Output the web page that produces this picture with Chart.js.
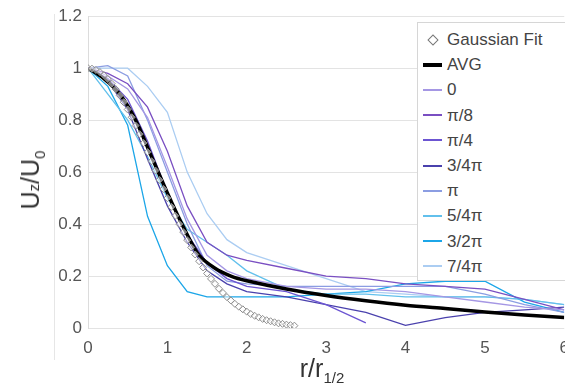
<!DOCTYPE html>
<html>
<head>
<meta charset="utf-8">
<script src="https://cdn.jsdelivr.net/npm/chart.js@4"></script>
<style>
  html, body { margin: 0; padding: 0; background: #fff; overflow: hidden; width: 565px; height: 385px; }
  #wrap { position: relative; width: 579px; height: 385px; }
  #frame { position: absolute; left: 54px; top: 14px; height: 346px; border-left: 1px solid #e6e6e6; }
  .title { position: absolute; font-family: 'Liberation Sans', Arial, sans-serif; color: #333; white-space: nowrap; }
  #ytitle { left: 32px; top: 180px; font-size: 25px; transform: translate(-50%, -50%) rotate(-90deg); }
  #xtitle { left: 322px; top: 370px; font-size: 25px; transform: translate(-50%, -50%); }
  .sm { font-size: 15px; }
  #legend { position: absolute; left: 417px; top: 22px; width: 160px; height: 259px; background: #fff;
            border: 1px solid #d6d6d6; box-sizing: border-box; padding-top: 4px;
            font-family: 'Liberation Sans', Arial, sans-serif; font-size: 17px; color: #444; }
  .row { height: 25.2px; line-height: 25.2px; display: flex; align-items: center; }
  .mk { width: 19px; margin-left: 5px; margin-right: 5px; display: flex; justify-content: center; align-items: center; }
</style>
</head>
<body>
<div id="wrap">
  <div id="frame"></div>
  <canvas id="chart" width="579" height="385"></canvas>
  <div id="ytitle" class="title">U<span class="sm">z</span>/U<sub class="sm">0</sub></div>
  <div id="xtitle" class="title">r/r<sub class="sm">1/2</sub></div>
  <div id="legend"></div>
</div>
<script>
// Gaussian fit (doc tu do thi)
const gaussX = [0,0.05,0.1,0.15,0.2,0.25,0.3,0.35,0.4,0.45,0.5,0.55,0.6,0.65,0.7,0.75,0.8,0.85,0.9,0.95,
  1,1.05,1.1,1.15,1.2,1.25,1.3,1.35,1.4,1.45,1.5,1.55,1.6,1.65,1.7,1.75,1.8,1.85,1.9,1.95,
  2,2.05,2.1,2.15,2.2,2.25,2.3,2.35,2.4,2.45,2.5,2.55,2.6];
const gaussY = [1,0.998,0.993,0.985,0.973,0.958,0.94,0.919,0.895,0.869,0.841,0.811,0.779,0.746,0.712,0.677,0.642,0.606,0.57,0.535,
  0.5,0.466,0.432,0.4,0.369,0.338,0.31,0.283,0.257,0.233,0.21,0.189,0.17,0.151,0.135,0.119,0.106,0.093,0.082,0.072,
  0.063,0.054,0.047,0.041,0.035,0.03,0.026,0.022,0.018,0.016,0.013,0.011,0.009];

// Trung binh
const avgX = [0,0.2,0.4,0.6,0.8,1,1.2,1.4,1.6,1.8,2,2.5,3,3.5,4,4.5,5,5.5,6];
const avgY = [1,0.96,0.9,0.8,0.66,0.52,0.39,0.28,0.23,0.2,0.182,0.15,0.125,0.105,0.088,0.075,0.062,0.05,0.04];

// Cac huong goc
const angX = [0,0.25,0.5,0.75,1,1.25,1.5,1.75,2,2.5,3,3.5,4,4.5,5,5.5,6];
const ang0    = [1,0.97,0.92,0.81,0.62,0.42,0.28,0.22,0.19,0.16,0.15,0.15,0.14,0.12,0.10,0.08,0.07];
const angPi8  = [1,0.98,0.94,0.85,0.68,0.47,0.33,0.28,0.26,0.23,0.2,0.19,0.17,0.16,0.15,0.11,0.07];
const angPi4  = [1,0.96,0.88,0.72,0.52,0.36,0.25,0.19,0.16,0.14,0.09,0.02,null,null,null,null,null];
const ang3Pi4 = [1,0.95,0.84,0.65,0.47,0.33,0.22,0.17,0.14,0.12,0.09,0.06,0.01,0.04,0.06,0.07,0.08];
const angPi   = [1,1.01,0.97,0.8,0.6,0.4,0.24,0.18,0.17,0.16,0.16,0.16,0.16,0.16,0.13,0.09,0.06];
const ang5Pi4 = [1,0.9,0.8,0.66,0.5,0.38,0.33,0.28,0.22,0.15,0.13,0.13,0.12,0.12,0.12,0.11,0.09];
const ang3Pi2 = [1,0.93,0.78,0.43,0.24,0.14,0.12,0.12,0.12,0.12,0.13,0.14,0.17,0.18,0.18,0.1,0.06];
const ang7Pi4 = [1,1.0,1.0,0.93,0.83,0.6,0.44,0.34,0.29,0.24,0.19,0.14,0.13,0.12,0.12,0.11,0.09];

const angLabels = ['0', 'π/8', 'π/4', '3/4π', 'π', '5/4π', '3/2π', '7/4π'];
const angSeries = [ang0, angPi8, angPi4, ang3Pi4, angPi, ang5Pi4, ang3Pi2, ang7Pi4];
const angColors = ['#a597e4', '#7a4fc2', '#6c55d2', '#4a41ad', '#8b9de2', '#62c0ec', '#1ca6e8', '#abcdf2'];

const yTicks = [0, 0.2, 0.4, 0.6, 0.8, 1, 1.2];
const xTicks = [0, 1, 2, 3, 4, 5, 6];

function pts(xs, ys) {
  return xs.map((x, i) => ({ x: x, y: ys[i] }));
}

const datasets = [
  {
    label: 'Gaussian Fit', data: pts(gaussX, gaussY), showLine: false,
    pointStyle: 'rectRot', pointRadius: 3.5, borderColor: '#8c8c8c', borderWidth: 1,
    backgroundColor: 'rgba(255,255,255,0.5)'
  },
  {
    label: 'AVG', data: pts(avgX, avgY), borderColor: '#000', borderWidth: 3.5,
    pointRadius: 0, tension: 0.3
  }
];
angLabels.forEach((lab, i) => {
  datasets.push({
    label: lab, data: pts(angX, angSeries[i]), borderColor: angColors[i],
    borderWidth: 1.3, pointRadius: 0, spanGaps: false
  });
});

const tickFont = { family: "'Liberation Sans', Arial, sans-serif", size: 17 };

const chart = new Chart(document.getElementById('chart'), {
  type: 'scatter',
  data: { datasets: datasets },
  options: {
    responsive: false,
    animation: false,
    showLine: true,
    layout: { padding: { top: 11, left: 0, right: 0, bottom: 0 } },
    plugins: { legend: { display: false }, tooltip: { enabled: false } },
    scales: {
      x: {
        type: 'linear', min: 0, max: 6,
        afterBuildTicks: s => { s.ticks = xTicks.map(v => ({ value: v })); },
        afterFit: s => { s.height = 57; },
        grid: { display: false, drawTicks: false },
        border: { display: false },
        ticks: { font: tickFont, color: '#555', padding: 10, callback: v => String(v) }
      },
      y: {
        min: 0, max: 1.2,
        afterBuildTicks: s => { s.ticks = yTicks.map(v => ({ value: v })); },
        afterFit: s => { s.width = 88; },
        grid: { color: '#e3e3e3', drawTicks: false },
        border: { display: true, color: '#dcdcdc' },
        ticks: { font: tickFont, color: '#555', padding: 6, callback: v => String(v) }
      }
    }
  }
});

// Chu giai HTML
const lg = document.getElementById('legend');
chart.data.datasets.forEach((ds, i) => {
  const row = document.createElement('div');
  row.className = 'row';
  const mk = document.createElement('span');
  mk.className = 'mk';
  if (i === 0) {
    mk.innerHTML = '<span style="display:inline-block;width:6px;height:6px;border:1px solid #777;transform:rotate(45deg)"></span>';
  } else {
    const h = i === 1 ? 4 : 2;
    mk.innerHTML = '<span style="display:inline-block;width:19px;height:' + h + 'px;background:' + ds.borderColor + '"></span>';
  }
  row.appendChild(mk);
  const t = document.createElement('span');
  t.textContent = ds.label;
  row.appendChild(t);
  lg.appendChild(row);
});
</script>
</body>
</html>
